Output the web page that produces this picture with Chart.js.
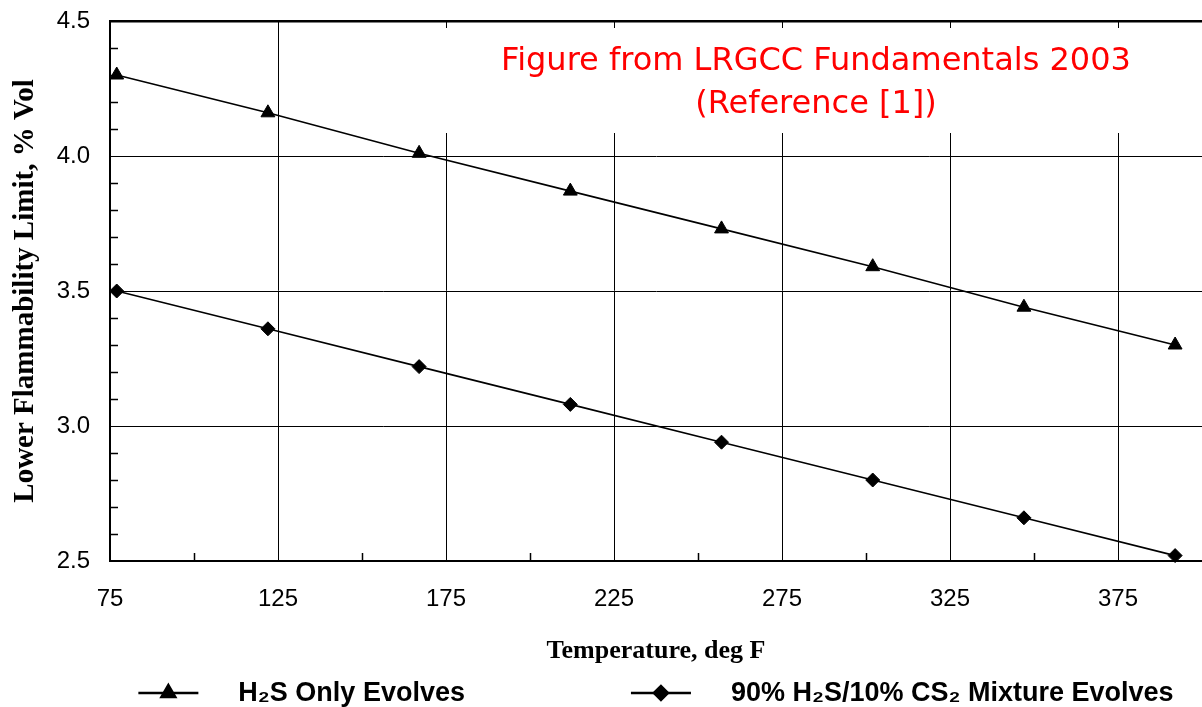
<!DOCTYPE html>
<html>
<head>
<meta charset="utf-8">
<script src="https://cdn.jsdelivr.net/npm/chart.js@4.4.1/dist/chart.umd.min.js"></script>
<style>
  html, body { margin: 0; padding: 0; background: #fff; overflow: hidden; }
</style>
</head>
<body>
<canvas id="lflChart" width="1202" height="707"></canvas>
<script>
// temperature, deg F (25 C steps)
const temps = [77, 122, 167, 212, 257, 302, 347, 392];
// lower flammability limit, % vol
const h2sOnly = [4.30, 4.16, 4.01, 3.87, 3.73, 3.59, 3.44, 3.30];
const h2sCs2Mix = [3.50, 3.36, 3.22, 3.08, 2.94, 2.80, 2.66, 2.52];

const xTicks = [75, 125, 175, 225, 275, 325, 375];
const xMinorTicks = [100, 150, 200, 250, 300, 350];
const yTicks = [2.5, 3.0, 3.5, 4.0, 4.5];
const yMinorTicks = [2.6, 2.7, 2.8, 2.9, 3.1, 3.2, 3.3, 3.4, 3.6, 3.7, 3.8, 3.9, 4.1, 4.2, 4.3, 4.4];

const seriesLabels = ['H₂S Only Evolves', '90% H₂S/10% CS₂ Mixture Evolves'];
const noteLines = ['Figure from LRGCC Fundamentals 2003', '(Reference [1])'];

function toPoints(values) {
    return values.map((v, i) => ({ x: temps[i], y: v }));
}

// short inside ticks between the grid lines
const minorTicks = {
    id: 'minorTicks',
    beforeDatasetsDraw(chart) {
        const ctx = chart.ctx;
        const area = chart.chartArea;
        ctx.save();
        ctx.strokeStyle = '#000';
        ctx.lineWidth = 1.5;
        ctx.beginPath();
        xMinorTicks.forEach(v => {
            const px = Math.round(chart.scales.x.getPixelForValue(v)) + 0.5;
            ctx.moveTo(px, area.bottom);
            ctx.lineTo(px, area.bottom - 8);
        });
        yMinorTicks.forEach(v => {
            const py = Math.round(chart.scales.y.getPixelForValue(v)) + 0.5;
            ctx.moveTo(area.left, py);
            ctx.lineTo(area.left + 8, py);
        });
        ctx.stroke();
        ctx.restore();
    }
};

// red source note on a white box
const sourceNote = {
    id: 'sourceNote',
    beforeDatasetsDraw(chart) {
        const ctx = chart.ctx;
        const top = chart.chartArea.top;
        ctx.save();
        ctx.fillStyle = '#fff';
        ctx.fillRect(440, top + 7, chart.width - 440, 105);
        ctx.fillStyle = '#ff0000';
        ctx.font = '32px "DejaVu Sans", Verdana, sans-serif';
        ctx.textAlign = 'center';
        ctx.textBaseline = 'alphabetic';
        ctx.fillText(noteLines[0], 816, top + 49);
        ctx.fillText(noteLines[1], 816, top + 92);
        ctx.restore();
    }
};

// legend with a line sample and the marker in the middle
const lineLegend = {
    id: 'lineLegend',
    afterDraw(chart) {
        const ctx = chart.ctx;
        const area = chart.chartArea;
        const sampleW = 60, textGap = 40, itemGap = 166;
        const baseY = chart.height - 6;
        const lineY = baseY - 8;
        ctx.save();
        ctx.font = 'bold 27px "Liberation Sans", Arial, sans-serif';
        const items = chart.data.datasets.map(ds => ({
            ds: ds,
            w: sampleW + textGap + ctx.measureText(ds.label).width
        }));
        const total = items.reduce((s, it) => s + it.w, 0) + itemGap * (items.length - 1);
        let x = (area.left + area.right) / 2 - total / 2;
        items.forEach(it => {
            ctx.strokeStyle = '#000';
            ctx.lineWidth = 2.5;
            ctx.beginPath();
            ctx.moveTo(x, lineY);
            ctx.lineTo(x + sampleW, lineY);
            ctx.stroke();
            ctx.fillStyle = '#000';
            Chart.helpers.drawPoint(ctx, {
                pointStyle: it.ds.pointStyle,
                radius: it.ds.pointRadius,
                rotation: 0,
                borderWidth: 1
            }, x + sampleW / 2, lineY);
            ctx.fillStyle = '#000';
            ctx.textAlign = 'left';
            ctx.textBaseline = 'alphabetic';
            ctx.fillText(it.ds.label, x + sampleW + textGap, baseY);
            x += it.w + itemGap;
        });
        ctx.restore();
    }
};

const ctx = document.getElementById('lflChart').getContext('2d');
const lflChart = new Chart(ctx, {
    type: 'line',
    data: {
        datasets: [{
            label: seriesLabels[0],
            data: toPoints(h2sOnly),
            borderColor: '#000',
            backgroundColor: '#000',
            borderWidth: 1.6,
            pointStyle: 'triangle',
            pointRadius: 8,
            pointBorderWidth: 1,
            pointBackgroundColor: '#000',
            pointBorderColor: '#000',
            tension: 0,
            clip: false
        }, {
            label: seriesLabels[1],
            data: toPoints(h2sCs2Mix),
            borderColor: '#000',
            backgroundColor: '#000',
            borderWidth: 1.6,
            pointStyle: 'rectRot',
            pointRadius: 7,
            pointBorderWidth: 1,
            pointBackgroundColor: '#000',
            pointBorderColor: '#000',
            tension: 0,
            clip: false
        }]
    },
    options: {
        responsive: false,
        devicePixelRatio: 1,
        animation: false,
        layout: { autoPadding: false, padding: { top: 21, right: 0, bottom: 40, left: 0 } },
        plugins: {
            legend: { display: false },
            tooltip: { enabled: false }
        },
        scales: {
            x: {
                type: 'linear',
                min: 75,
                max: 400,
                afterBuildTicks: scale => { scale.ticks = xTicks.map(v => ({ value: v })); },
                afterFit: scale => {
                    scale.height = 106;
                    scale.paddingLeft = 0;
                    scale.paddingRight = 0;
                },
                grid: { color: '#000', lineWidth: 1, drawTicks: false },
                border: { display: true, color: '#000', width: 2 },
                ticks: {
                    color: '#000',
                    padding: 24,
                    maxRotation: 0,
                    autoSkip: false,
                    font: { family: '"Liberation Sans", Arial, sans-serif', size: 24 },
                    callback: v => String(v)
                },
                title: {
                    display: true,
                    text: 'Temperature, deg F',
                    color: '#000',
                    padding: { top: 0, bottom: 0 },
                    font: { family: '"Liberation Serif", "Times New Roman", serif', size: 26, weight: 'bold' }
                }
            },
            y: {
                min: 2.5,
                max: 4.5,
                afterBuildTicks: scale => { scale.ticks = yTicks.map(v => ({ value: v })); },
                afterFit: scale => {
                    scale.width = 110;
                    scale.paddingTop = 0;
                    scale.paddingBottom = 0;
                },
                grid: {
                    color: '#000',
                    lineWidth: c => (c.tick && c.tick.value === 4.5 ? 2.5 : 1),
                    drawTicks: false
                },
                border: { display: true, color: '#000', width: 2 },
                ticks: {
                    color: '#000',
                    padding: 20,
                    autoSkip: false,
                    font: { family: '"Liberation Sans", Arial, sans-serif', size: 24 },
                    callback: v => v.toFixed(1)
                },
                title: {
                    display: true,
                    text: 'Lower Flammability Limit, % Vol',
                    color: '#000',
                    padding: { top: 8, bottom: 0 },
                    font: { family: '"Liberation Serif", "Times New Roman", serif', size: 29, weight: 'bold' }
                }
            }
        }
    },
    plugins: [minorTicks, sourceNote, lineLegend]
});
</script>
</body>
</html>
